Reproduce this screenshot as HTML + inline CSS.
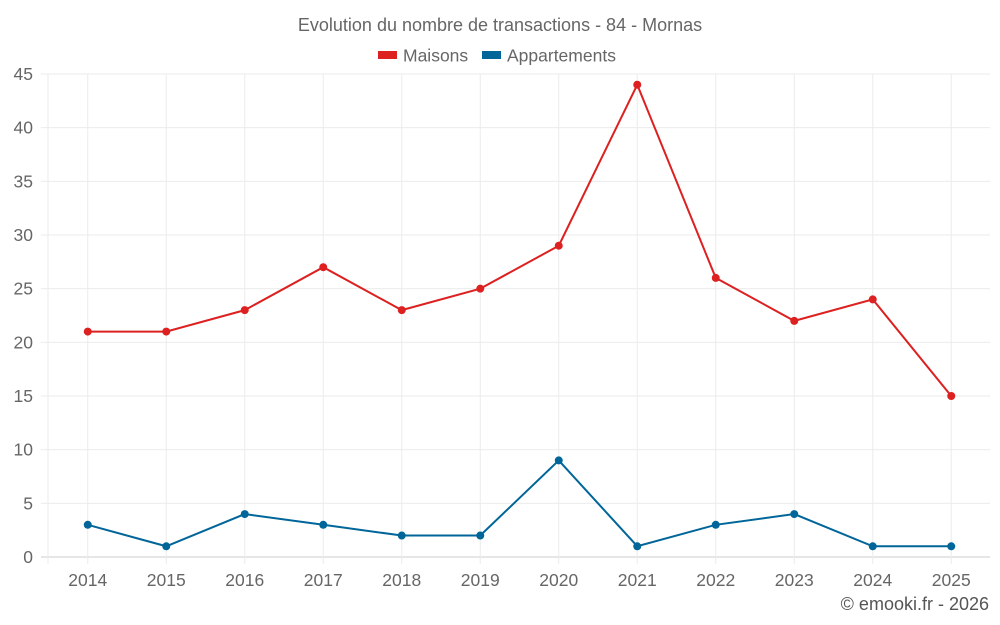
<!DOCTYPE html>
<html><head><meta charset="utf-8"><style>
body{margin:0;background:#fff;}
svg{display:block;font-family:"Liberation Sans",sans-serif;}
</style></head><body>
<svg id="c" width="1000" height="625">
<text x="500" y="31" text-anchor="middle" font-size="18" fill="#666">Evolution du nombre de transactions - 84 - Mornas</text>
<g>
<g><rect x="378" y="51" width="19" height="8" fill="#dd2020"/><text x="403" y="61.5" font-size="17.5" fill="#666">Maisons</text></g>
<g><rect x="482" y="51" width="19" height="8" fill="#006699"/><text x="507" y="61.5" font-size="17.5" fill="#666">Appartements</text></g>
</g>
<g id="grid"></g><g id="axes"></g><g id="series"></g>
<text x="989" y="610" text-anchor="end" font-size="18" fill="#555">© emooki.fr - 2026</text>
</svg>
<script>
const years=["2014","2015","2016","2017","2018","2019","2020","2021","2022","2023","2024","2025"];
const maisons=[21,21,23,27,23,25,29,44,26,22,24,15];
const appartements=[3,1,4,3,2,2,9,1,3,4,1,1];
const yTicks=[0,5,10,15,20,25,30,35,40,45];
const NS="http://www.w3.org/2000/svg";
const L=48,R=990,T=74,B=557,yMax=45;
const band=(R-L)/years.length;
const x=i=>L+band*(i+0.5)+0.5;
const y=v=>B-(v/yMax)*(B-T);
function mk(tag,attrs,parent){const e=document.createElementNS(NS,tag);for(const k in attrs)e.setAttribute(k,attrs[k]);parent.appendChild(e);return e;}
const grid=document.getElementById('grid'),axes=document.getElementById('axes'),ser=document.getElementById('series');
yTicks.forEach(t=>{
 const ln=mk('line',{x1:41,x2:R,y1:y(t),y2:y(t),stroke:t===0?'#ccc':'#ebebeb','stroke-width':1},grid);
 
 
 const tx=mk('text',{x:33,y:y(t)+6,'text-anchor':'end','font-size':17.5,fill:'#666'},axes);
 tx.textContent=t;
 
 
});
const lb=mk('line',{x1:L,x2:L,y1:T,y2:B+7,stroke:'#ebebeb'},grid);


years.forEach((yr,i)=>{
 const ln=mk('line',{x1:x(i),x2:x(i),y1:T,y2:B+7,stroke:'#ebebeb'},grid);
 
 
 const tx=mk('text',{x:x(i),y:586,'text-anchor':'middle','font-size':17.5,fill:'#666'},axes);
 tx.textContent=yr;
 
 
});
function draw(vals,color,name){
 const p=mk('polyline',{points:vals.map((v,i)=>x(i)+','+y(v)).join(' '),fill:'none',stroke:color,'stroke-width':2},ser);
 
 
 vals.forEach((v,i)=>{
  const c=mk('circle',{cx:x(i),cy:y(v),r:4,fill:color},ser);
  
  
 });
}
draw(maisons,'#dd2020','maisons');
draw(appartements,'#006699','appartements');
</script>
</body></html>
